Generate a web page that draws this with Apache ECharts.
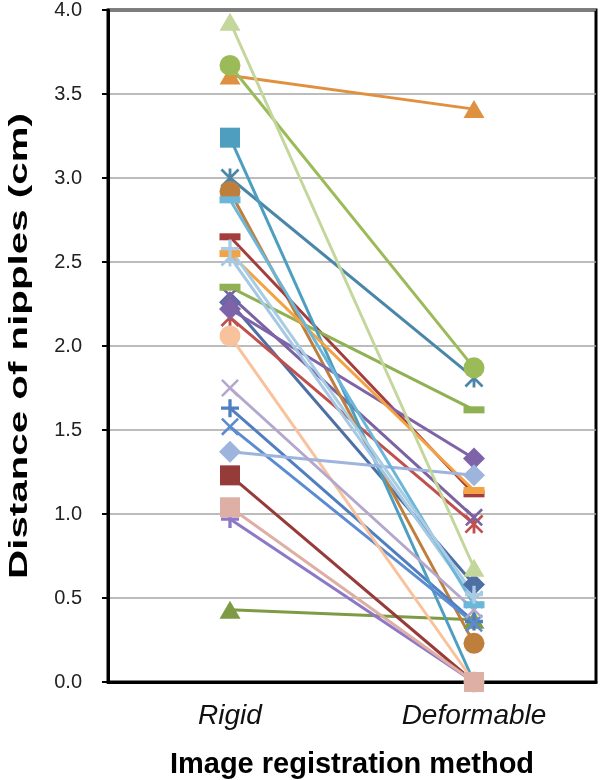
<!DOCTYPE html>
<html>
<head>
<meta charset="utf-8">
<script src="https://cdn.jsdelivr.net/npm/echarts@6/dist/echarts.min.js"></script>
<style>
html,body{margin:0;padding:0;background:#fff;}
#chart{width:600px;height:780px;}
</style>
</head>
<body>
<div id="chart"></div>
<script>
// ---- data ----
const categories = ['Rigid', 'Deformable'];
const yTicks = [0, 0.5, 1.0, 1.5, 2.0, 2.5, 3.0, 3.5, 4.0];
const yTitle = 'Distance of nipples (cm)';
const xTitle = 'Image registration method';
const seriesNames = [
  'P1','P2','P3','P4','P5','P6','P7','P8','P9','P10','P11','P12','P13',
  'P14','P15','P16','P17','P18','P19','P20','P21','P22','P23','P24','P25'
];
const rigidValues = [
  2.26, 2.17, 0.43, 2.30, 3.00, 2.92, 1.63, 2.65, 3.61, 2.35, 2.22, 3.24,
  1.52, 2.06, 2.53, 3.67, 0.97, 2.55, 1.37, 1.23, 3.93, 1.75, 2.87, 2.58, 1.04
];
const deformableValues = [
  0.58, 0.94, 0.37, 0.98, 1.81, 0.23, 0.36, 1.12, 3.41, 1.62, 1.33, 0.00,
  0.35, 0.00, 0.49, 1.87, 0.00, 1.14, 1.23, 0.00, 0.68, 0.43, 0.46, 0.52, 0.00
];

// ---- styles (kept apart from data) ----
const P_PLUS = 'path://M-1.1,-6L1.1,-6L1.1,-1.1L6,-1.1L6,1.1L1.1,1.1L1.1,6L-1.1,6L-1.1,1.1L-6,1.1L-6,-1.1L-1.1,-1.1Z';
const P_X = 'path://M-6,-4.8L-4.8,-6L6,4.8L4.8,6Z M4.8,-6L6,-4.8L-4.8,6L-6,4.8Z';
const P_STAR = 'path://M-6,-4.8L-4.8,-6L6,4.8L4.8,6Z M4.8,-6L6,-4.8L-4.8,6L-6,4.8Z M-0.9,-6L0.9,-6L0.9,6L-0.9,6Z';
const markers = {
  diamond: ['diamond', 22],
  square: ['rect', 20],
  triangle: ['triangle', [21, 18]],
  x: [P_X, 18],
  star: [P_STAR, 19],
  circle: ['circle', 21],
  plus: [P_PLUS, 18],
  dash: ['rect', [21, 7]]
};
const styles = [
  ['#4D6FA4', 'diamond'],
  ['#C0504D', 'star'],
  ['#7E9A45', 'triangle'],
  ['#7B62A0', 'x'],
  ['#4A86A8', 'star'],
  ['#BE7E3C', 'circle'],
  ['#4F7FC0', 'plus'],
  ['#A33E3C', 'dash'],
  ['#E0913F', 'triangle'],
  ['#8FB153', 'dash'],
  ['#7F63A8', 'diamond'],
  ['#4E9EC0', 'square'],
  ['#5B8BD0', 'x'],
  ['#F8C29C', 'circle'],
  ['#A5C8E4', 'star'],
  ['#9BBB59', 'circle'],
  ['#8D78C8', 'plus'],
  ['#F2A345', 'dash'],
  ['#9DB5DD', 'diamond'],
  ['#953B39', 'square'],
  ['#C3D69B', 'triangle'],
  ['#B3A8CC', 'x'],
  ['#6CB6DA', 'dash'],
  ['#A9CCE3', 'plus'],
  ['#DDAFA5', 'square']
];

const series = seriesNames.map((name, i) => {
  const [color, mk] = styles[i];
  const [symbol, size] = markers[mk];
  return {
    name: name,
    type: 'line',
    data: [rigidValues[i], deformableValues[i]],
    symbol: symbol,
    symbolSize: size,
    symbolKeepAspect: true,
    showSymbol: true,
    lineStyle: { color: color, width: 3 },
    itemStyle: { color: color, borderWidth: 0 },
    emphasis: { disabled: true },
    z: 3
  };
});

const FONT = 'Liberation Sans, Arial, sans-serif';
const chart = echarts.init(document.getElementById('chart'), null, { renderer: 'canvas' });
chart.setOption({
  animation: false,
  backgroundColor: '#ffffff',
  grid: {
    left: 108, right: 4, top: 10, bottom: 98,
    outerBoundsMode: 'none',
    containLabel: false,
    show: true, borderColor: '#000', borderWidth: 3, backgroundColor: 'transparent'
  },
  xAxis: {
    type: 'category',
    data: categories,
    boundaryGap: true,
    axisLine: { show: true, lineStyle: { color: '#000', width: 3 } },
    axisTick: { show: false },
    axisLabel: {
      color: '#111', fontSize: 28, fontStyle: 'italic',
      fontFamily: FONT, margin: 20
    },
    splitLine: { show: false },
    name: xTitle,
    nameLocation: 'middle',
    nameGap: 68,
    nameTextStyle: {
      color: '#000', fontSize: 29, fontWeight: 'bold', fontFamily: FONT
    }
  },
  yAxis: {
    type: 'value',
    min: yTicks[0],
    max: yTicks[yTicks.length - 1],
    interval: 0.5,
    axisLine: { show: true, lineStyle: { color: '#000', width: 3 } },
    axisTick: { show: true, inside: false, length: 6, lineStyle: { color: '#000', width: 2 } },
    axisLabel: {
      color: '#222', fontSize: 20, margin: 26,
      fontFamily: FONT,
      formatter: v => v.toFixed(1)
    },
    splitLine: { show: true, lineStyle: { color: '#A6A6A6', width: 1.5 } }
  },
  graphic: [{
    type: 'text',
    x: 20,
    y: 346,
    rotation: Math.PI / 2,
    scaleX: 1.55,
    style: {
      text: yTitle,
      font: 'bold 26px ' + FONT,
      fill: '#000',
      textAlign: 'center',
      textVerticalAlign: 'middle'
    }
  }],
  series: series
});
</script>
</body>
</html>
